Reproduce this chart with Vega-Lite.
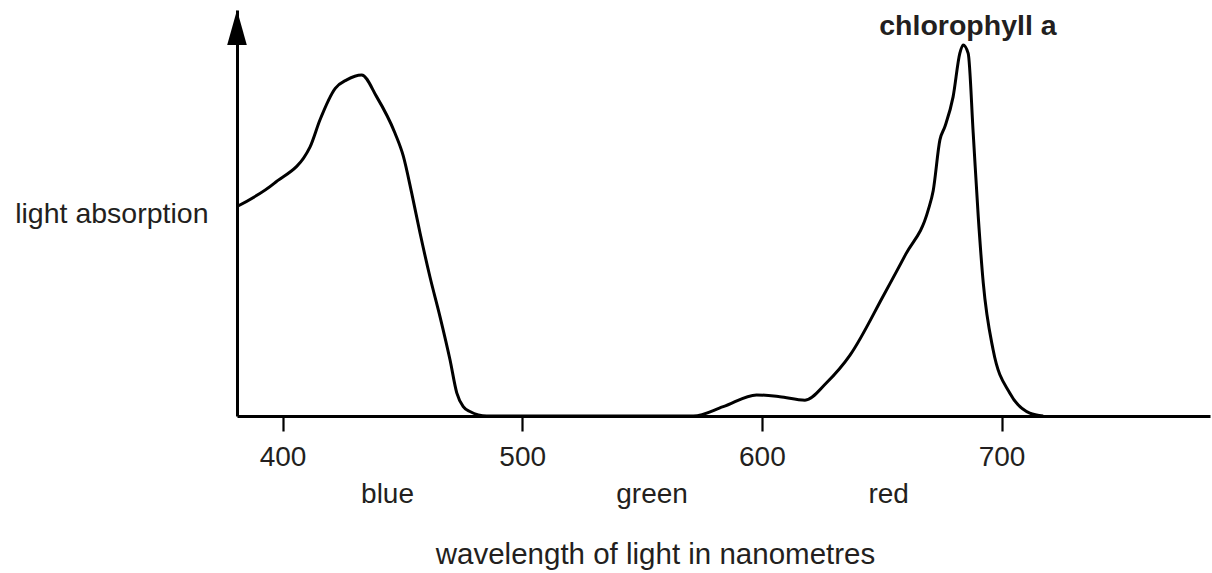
{
  "$schema": "https://vega.github.io/schema/vega-lite/v6.json",
  "width": 973,
  "height": 406,
  "autosize": {"type": "none"},
  "padding": {"left": 237, "top": 10, "right": 2, "bottom": 157},
  "background": "white",
  "config": {"view": {"stroke": null}, "font": "Liberation Sans"},
  "datasets": {
    "curve": [
      {"wavelength": 381, "absorption": 51.6},
      {"wavelength": 396.5, "absorption": 57.3},
      {"wavelength": 411.5, "absorption": 66.3},
      {"wavelength": 415.6, "absorption": 72.9},
      {"wavelength": 422.0, "absorption": 80.7},
      {"wavelength": 426.8, "absorption": 82.8},
      {"wavelength": 433.0, "absorption": 84.0},
      {"wavelength": 439.3, "absorption": 78.6},
      {"wavelength": 446.9, "absorption": 69.7},
      {"wavelength": 450.4, "absorption": 64.0},
      {"wavelength": 453.9, "absorption": 54.9},
      {"wavelength": 457.4, "absorption": 45.0},
      {"wavelength": 461.5, "absorption": 34.3},
      {"wavelength": 465.7, "absorption": 24.5},
      {"wavelength": 469.9, "absorption": 13.8},
      {"wavelength": 472.7, "absorption": 5.7},
      {"wavelength": 475.4, "absorption": 2.3},
      {"wavelength": 478.2, "absorption": 1.1},
      {"wavelength": 485.2, "absorption": 0},
      {"wavelength": 530, "absorption": 0},
      {"wavelength": 571.4, "absorption": 0},
      {"wavelength": 583.9, "absorption": 2.3},
      {"wavelength": 597.8, "absorption": 5.2},
      {"wavelength": 607.5, "absorption": 4.75},
      {"wavelength": 618.0, "absorption": 3.9},
      {"wavelength": 627.0, "absorption": 8.2},
      {"wavelength": 636.8, "absorption": 15.0},
      {"wavelength": 650.6, "absorption": 29.5},
      {"wavelength": 660.0, "absorption": 39.8},
      {"wavelength": 669.4, "absorption": 50.7},
      {"wavelength": 671.5, "absorption": 55.5},
      {"wavelength": 674.3, "absorption": 68.0},
      {"wavelength": 676.4, "absorption": 71.3},
      {"wavelength": 679.8, "absorption": 78.6},
      {"wavelength": 682.6, "absorption": 89.3},
      {"wavelength": 684.0, "absorption": 91.4},
      {"wavelength": 686.1, "absorption": 89.3},
      {"wavelength": 688.2, "absorption": 69.6},
      {"wavelength": 690.3, "absorption": 49.1},
      {"wavelength": 692.4, "absorption": 32.7},
      {"wavelength": 696.5, "absorption": 16.3},
      {"wavelength": 703.5, "absorption": 5.6},
      {"wavelength": 711.8, "absorption": 0.7},
      {"wavelength": 717.4, "absorption": 0}
    ],
    "arrow": [{"wavelength": 381, "absorption": 95.7}],
    "label": [{"wavelength": 686, "absorption": 93.8, "label": "chlorophyll a"}]
  },
  "layer": [
    {
      "data": {"name": "curve"},
      "mark": {"type": "line", "interpolate": "monotone", "color": "black", "strokeWidth": 3},
      "encoding": {
        "x": {
          "field": "wavelength", "type": "quantitative",
          "scale": {"domain": [381, 787], "nice": false, "zero": false},
          "axis": {
            "orient": "bottom", "values": [400, 500, 600, 700], "title": null, "grid": false,
            "domainColor": "black", "domainWidth": 3, "tickColor": "black", "tickWidth": 2.2, "tickSize": 15,
            "labelFontSize": 28, "labelColor": "#231f20", "labelPadding": 12, "labelFont": "Liberation Sans",
            "format": "d", "labelFlush": false
          }
        },
        "y": {
          "field": "absorption", "type": "quantitative",
          "scale": {"domain": [0, 100], "nice": false, "zero": true},
          "axis": {
            "domainColor": "black", "domainWidth": 3, "ticks": false, "labels": false, "grid": false,
            "title": "light absorption", "titleAngle": 0, "titleAlign": "right", "titleBaseline": "alphabetic",
            "titleX": -29, "titleY": 212, "titleFontSize": 28.5, "titleFontWeight": "normal", "titleColor": "#231f20",
            "titleFont": "Liberation Sans"
          }
        }
      }
    },
    {
      "data": {"name": "arrow"},
      "mark": {"type": "point", "shape": "M0,-1L0.56,1L-0.56,1Z", "size": 1225, "filled": true, "color": "black", "opacity": 1, "strokeWidth": 0},
      "encoding": {
        "x": {"field": "wavelength", "type": "quantitative", "axis": null},
        "y": {"field": "absorption", "type": "quantitative", "axis": null}
      }
    },
    {
      "data": {"name": "label"},
      "mark": {"type": "text", "fontWeight": "bold", "fontSize": 28.5, "align": "center", "baseline": "alphabetic", "color": "#231f20", "font": "Liberation Sans"},
      "encoding": {
        "x": {
          "field": "wavelength", "type": "quantitative",
          "axis": {
            "orient": "bottom", "values": [443.6, 554, 652.7],
            "labelExpr": "datum.value < 500 ? 'blue' : datum.value < 600 ? 'green' : 'red'",
            "domain": false, "ticks": false, "tickSize": 0, "grid": false,
            "labelFontSize": 28, "labelColor": "#231f20", "labelPadding": 64, "labelFlush": false, "labelOverlap": false,
            "labelFont": "Liberation Sans",
            "title": "wavelength of light in nanometres", "titleFontSize": 29.5, "titleFontWeight": "normal",
            "titleColor": "#231f20", "titleFont": "Liberation Sans",
            "titleX": 418, "titleY": 147, "titleAlign": "center", "titleBaseline": "alphabetic"
          }
        },
        "y": {"field": "absorption", "type": "quantitative", "axis": null},
        "text": {"field": "label"}
      }
    }
  ],
  "resolve": {"axis": {"x": "independent", "y": "independent"}}
}
